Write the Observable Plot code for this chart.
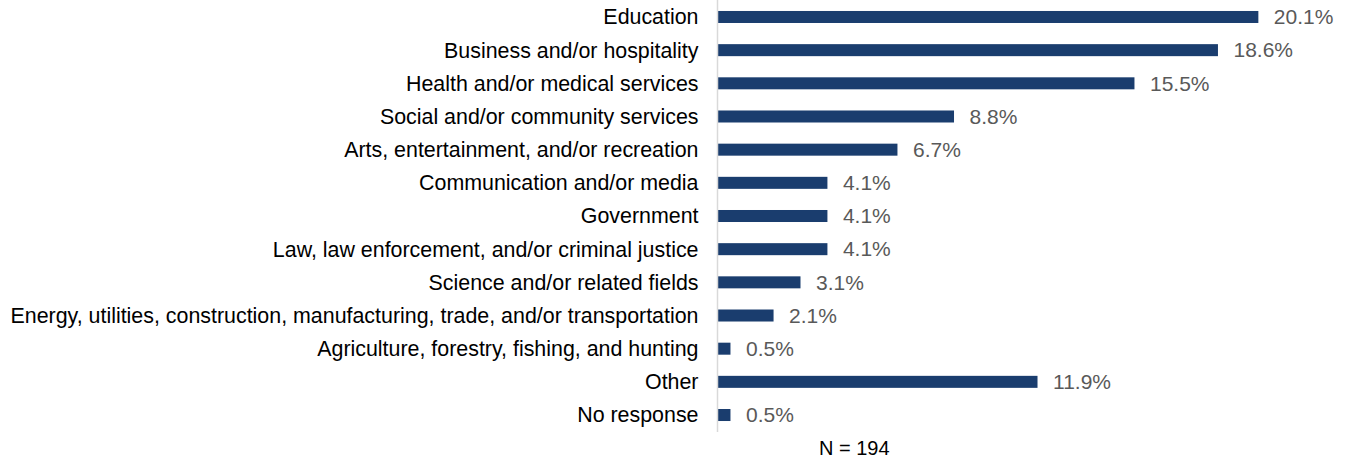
<!DOCTYPE html>
<html><head><meta charset="utf-8">
<script src="https://cdn.jsdelivr.net/npm/d3@7"></script>
<script src="https://cdn.jsdelivr.net/npm/@observablehq/plot@0.6"></script>
<style>
body{margin:0;background:#fff;font-family:Arial,"Liberation Sans",sans-serif;}
#wrap{position:relative;width:1345px;height:465px;}
#note{position:absolute;left:819px;top:437px;font-size:20px;color:#000;}
</style></head>
<body><div id="wrap"><div id="chart"></div><div id="note">N = 194</div></div>
<script>
const categories = [
  "Education",
  "Business and/or hospitality",
  "Health and/or medical services",
  "Social and/or community services",
  "Arts, entertainment, and/or recreation",
  "Communication and/or media",
  "Government",
  "Law, law enforcement, and/or criminal justice",
  "Science and/or related fields",
  "Energy, utilities, construction, manufacturing, trade, and/or transportation",
  "Agriculture, forestry, fishing, and hunting",
  "Other",
  "No response"
];
const values = [20.1, 18.6, 15.5, 8.8, 6.7, 4.1, 4.1, 4.1, 3.1, 2.1, 0.5, 11.9, 0.5];
const data = categories.map((c, i) => ({category: c, value: values[i]}));

const chart = Plot.plot({
  width: 1345,
  height: 438,
  marginLeft: 717,
  marginRight: 22,
  marginTop: 0,
  marginBottom: 6,
  style: {fontFamily: "Arial, 'Liberation Sans', sans-serif", background: "#fff"},
  x: {domain: [0, 22.5], axis: null},
  y: {domain: categories, paddingInner: 0.638, paddingOuter: 0.331, round: false, label: null, axis: null},
  marks: [
    Plot.barX(data, {y: "category", x: "value", fill: "#1a3d6e"}),
    Plot.ruleX([0], {stroke: "#d9d9d9", strokeWidth: 1.5}),
    Plot.axisY({tickSize: 0, tickPadding: 19, fontSize: 21.4, color: "#000", label: null}),
    Plot.text(data, {y: "category", x: "value", text: d => d.value.toFixed(1) + "%", dx: 15, textAnchor: "start", fontSize: 21, fill: "#595959"})
  ]
});
document.getElementById("chart").appendChild(chart);
</script>
</body></html>
